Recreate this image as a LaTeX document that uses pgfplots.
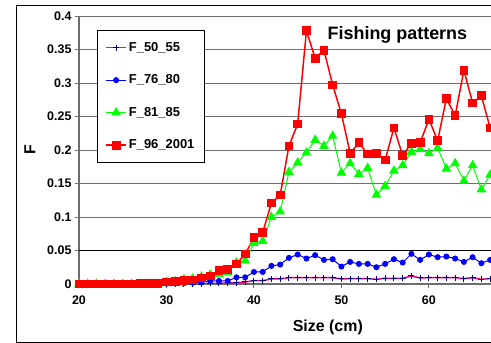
\documentclass[border=0pt]{standalone}
\usepackage{pgfplots}
\pgfplotsset{compat=1.18}
\usepackage{fontspec}
\setmainfont{Liberation Sans}
\definecolor{gridgray}{RGB}{110,110,110}
\definecolor{navyplus}{RGB}{0,0,128}

\pgfplotstableread{
x F5055 F7680 F8185 F962001
20 0 0 0 0
21 0 0 0 0
22 0 0 0 0
23 0 0 0 0
24 0 0 0 0
25 0 0 0 0
26 0 0 0 0
27 0 0 0 0.0005
28 0 0 0 0.001
29 0 0 0 0.001
30 0 0.0005 0.003 0.003
31 0 0.001 0.004 0.004
32 0 0.0015 0.007 0.005
33 0 0.002 0.008 0.006
34 0 0.0025 0.011 0.009
35 0.001 0.0045 0.014 0.012
36 0.001 0.0045 0.015 0.020
37 0.0015 0.0045 0.017 0.022
38 0.002 0.010 0.032 0.030
39 0.003 0.010 0.035 0.045
40 0.005 0.018 0.061 0.069
41 0.005 0.018 0.064 0.077
42 0.0075 0.027 0.100 0.121
43 0.0075 0.029 0.108 0.133
44 0.0095 0.039 0.167 0.206
45 0.0095 0.044 0.181 0.239
46 0.0095 0.038 0.196 0.378
47 0.0095 0.043 0.215 0.337
48 0.0095 0.036 0.206 0.349
49 0.0095 0.037 0.221 0.297
50 0.0075 0.026 0.166 0.254
51 0.008 0.033 0.180 0.195
52 0.008 0.030 0.164 0.211
53 0.008 0.030 0.173 0.194
54 0.007 0.025 0.133 0.195
55 0.0085 0.030 0.146 0.185
56 0.0085 0.037 0.169 0.233
57 0.0085 0.032 0.177 0.192
58 0.012 0.045 0.197 0.210
59 0.009 0.036 0.201 0.211
60 0.0095 0.044 0.195 0.246
61 0.0095 0.040 0.203 0.214
62 0.0095 0.041 0.172 0.277
63 0.0095 0.038 0.180 0.251
64 0.008 0.033 0.154 0.319
65 0.0095 0.040 0.177 0.270
66 0.007 0.031 0.141 0.281
67 0.008 0.036 0.163 0.233
}\datatable

\begin{document}
\begin{tikzpicture}
\path[use as bounding box] (0bp,0bp) rectangle (491bp,343bp);
\draw[black, line width=1bp] (500bp,337bp) -- (16bp,337bp) -- (16bp,1bp) -- (500bp,1bp);
\begin{axis}[
  at={(79bp,59bp)}, anchor=south west,
  scale only axis, width=412bp, height=268bp,
  xmin=20, xmax=67.1, ymin=0, ymax=0.4,
  axis x line*=bottom, axis y line*=left,
  axis line style={gridgray, line width=1.2bp, -},
  xtick={20,30,40,50,60},
  ytick={0,0.1,0.15,0.2,0.25,0.3,0.35,0.4},
  extra y ticks={0.05},
  extra y tick style={grid style={black, line width=1bp}},
  ymajorgrids,
  grid style={gridgray, line width=1bp},
  tick align=outside, major tick length=4bp,
  tick style={gridgray, line width=1bp},
  /pgf/number format/assume math mode=true,
  yticklabel style={/pgf/number format/.cd, fixed, precision=2},
  xticklabel style={yshift=-4bp},
  ticklabel style={font=\bfseries\fontsize{12.5}{14}\selectfont, text=black},
  xlabel={Size (cm)}, ylabel={F},
  label style={font=\bfseries\fontsize{16}{18}\selectfont},
  xlabel style={at={(axis description cs:0.604,-0.16)}, anchor=center},
  ylabel style={at={(axis description cs:-0.119,0.5)}, anchor=center, rotate=0},
  legend style={at={(axis description cs:0.0437,0.948)}, anchor=north west,
    draw=black, line width=0.8bp, font=\bfseries\fontsize{13}{15}\selectfont,
    row sep=18bp, inner xsep=8bp, inner ysep=10bp},
  legend image code/.code={\draw[mark repeat=2,mark phase=2] plot coordinates {(0bp,0bp) (10bp,0bp) (20bp,0bp)};},
  legend cell align=left,
  clip=true,
]
\addplot[magenta, line width=1.5bp, mark=+, mark size=3bp, mark options={navyplus, line width=1bp}] table[x=x, y=F5055] {\datatable};
\addlegendentry{F\_50\_55}
\addplot[blue, line width=1bp, mark=*, mark size=2.5bp, mark options={blue}] table[x=x, y=F7680] {\datatable};
\addlegendentry{F\_76\_80}
\addplot[green, line width=1bp, mark=triangle*, mark size=4.6bp, mark options={green}] table[x=x, y=F8185] {\datatable};
\addlegendentry{F\_81\_85}
\addplot[red, line width=1.5bp, mark=square*, mark size=3.6bp, mark options={red}] table[x=x, y=F962001] {\datatable};
\addlegendentry{F\_96\_2001}
\node[font=\bfseries\fontsize{18}{20}\selectfont] at (axis cs:56.4,0.372) {Fishing patterns};
\end{axis}
\end{tikzpicture}
\end{document}
